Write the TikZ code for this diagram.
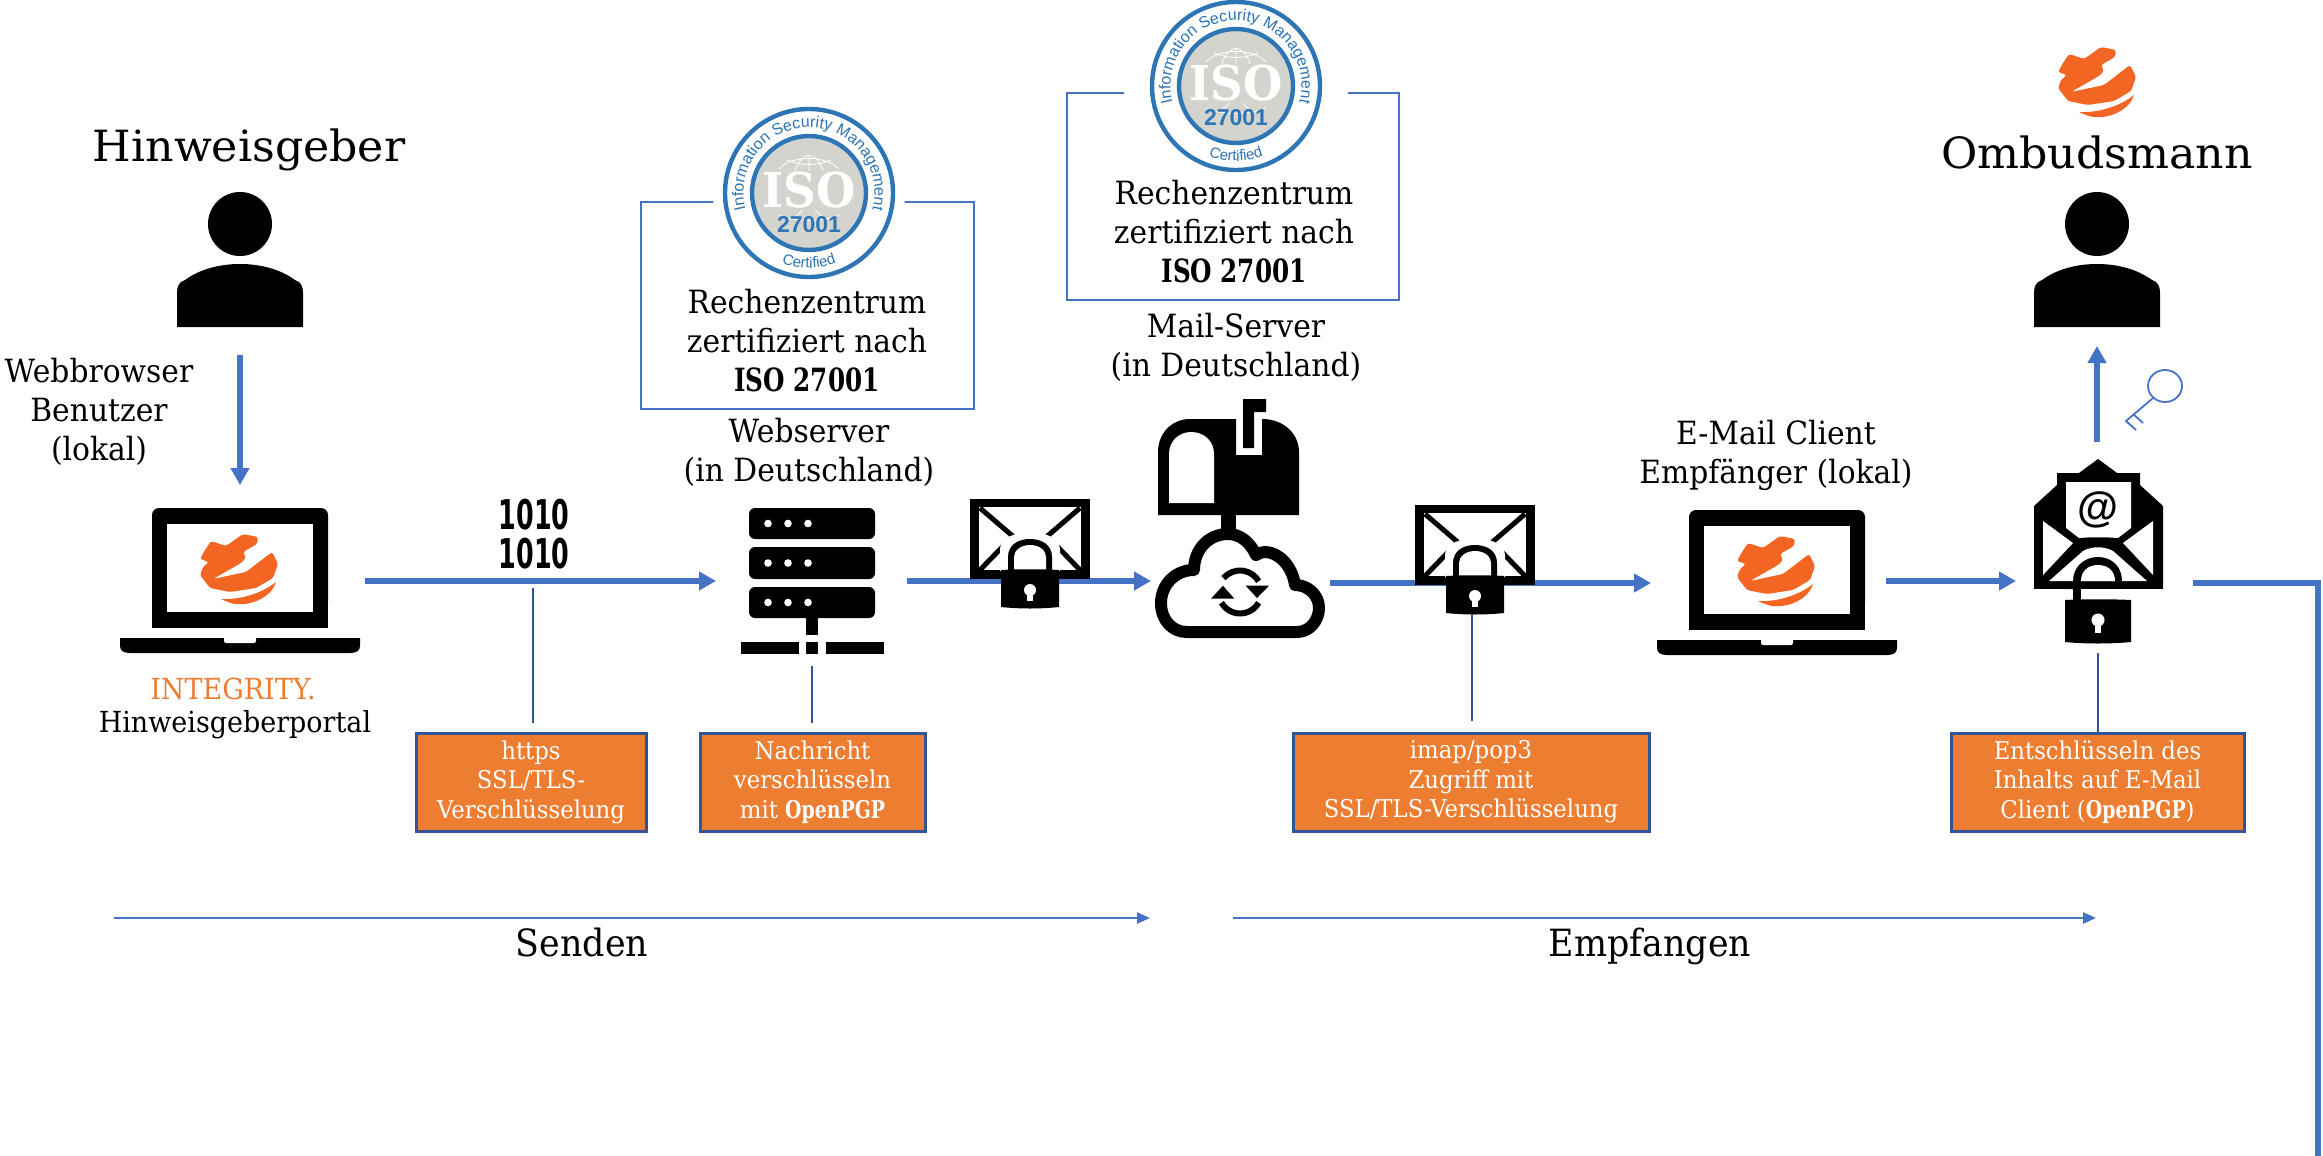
\documentclass[tikz,border=0pt]{standalone}
\usepackage{fontspec}
\setmainfont{DejaVu Serif}[FakeStretch=0.93]
\newfontfamily\headfont{DejaVu Serif}[FakeStretch=1.03]
\newfontfamily\narrowfont{DejaVu Serif}[FakeStretch=0.77]
\newfontfamily\labfont{Liberation Sans}
\newfontfamily\binfont{DejaVu Sans}[FakeStretch=0.62]
\newfontfamily\isofont{DejaVu Serif}[FakeStretch=0.94]
\usetikzlibrary{arrows.meta,decorations.text}
\definecolor{flowblue}{HTML}{4472C4}
\definecolor{edgeblue}{HTML}{2F5597}
\definecolor{boxorange}{HTML}{ED7D31}
\definecolor{logoorange}{HTML}{F26522}
\definecolor{badgeblue}{HTML}{2E75B6}
\definecolor{badgegrey}{HTML}{D4D4CE}
\newcommand{\fsz}[2]{\fontsize{#1}{#2}\selectfont}
\newcommand{\nb}[1]{{\narrowfont\bfseries #1}}
\tikzset{
  flowarrow/.style={draw=flowblue,line width=5.5pt,-{Triangle[length=17pt,width=18pt]}},
  flowline/.style={draw=flowblue,line width=5.5pt},
  phasearrow/.style={draw=flowblue,line width=2.5pt,-{Triangle[length=13pt,width=11pt]}},
  stemline/.style={draw=edgeblue,line width=2.4pt},
  orangebox/.style={draw=edgeblue,line width=3pt,fill=boxorange,text=white,align=center,inner sep=0pt,font=\fsz{24.5}{29.5}},
  certbox/.style={draw=flowblue,line width=2pt,inner sep=0pt},
  bodytext/.style={align=center,text=black,inner sep=0pt,font=\fsz{32}{39}},
  phasetext/.style={align=center,text=black,inner sep=0pt,font=\fsz{37.5}{38}},
  headtext/.style={align=center,text=black,inner sep=0pt,font=\headfont\fsz{43}{46}},
  logomark/.pic={
    \fill[logoorange,rounded corners=2.5pt] (-28,-29) -- (-13,-24) -- (4,-36) -- (19,-33) -- (18,-26) -- (4,-18) -- (7,-12) -- (2,-7) -- (-26,9) -- (7,2) -- (33,-18) -- (39,-6) -- (34,8) -- (17,18) -- (-9,22) -- (-29,18) -- (-39,5) -- (-36,-3) -- (-30,-8) -- (-39,-11) -- (-34,-20) -- cycle;
    \fill[logoorange] (-18,29) .. controls (0,30) and (22,24) .. (37,12) .. controls (33,26) and (14,36) .. (-4,34) .. controls (-9,33) and (-14,31) .. (-18,29) -- cycle;
  },
  personicon/.pic={
    \fill[black] (0,-40) circle[x radius=32,y radius=32];
    \fill[black] (-63,63) -- (-63,29) .. controls (-63,22) and (-61,18) .. (-55,16) .. controls (-40,5) and (-20,0) .. (0,0) .. controls (20,0) and (40,5) .. (55,16) .. controls (61,18) and (63,22) .. (63,29) -- (63,63) -- cycle;
  },
  laptopicon/.pic={
    \fill[black,rounded corners=7pt] (0,30) -- (0,-50) -- (176,-50) -- (176,50) -- (0,50) -- cycle;
    \fill[black] (0,30) rectangle (176,70);
    \fill[white] (15,-34) rectangle (161,54);
    \fill[black] (-32,80) -- (208,80) -- (208,88) .. controls (208,93) and (204,95) .. (198,95) -- (-22,95) .. controls (-28,95) and (-32,93) .. (-32,88) -- cycle;
    \fill[white,rounded corners=2pt] (72,78) -- (72,85) -- (104,85) -- (104,78) -- cycle;
    \pic at (87,12) {logomark};
  },
  envelopeicon/.pic={
    \fill[black] (0,0) rectangle (120,80);
    \fill[white] (9,8) rectangle (111,71);
    \draw[black,line width=5pt] (10,9) -- (60,52) -- (110,9);
    \draw[black,line width=5pt] (8,73) -- (40,40) (112,73) -- (80,40);
    \fill[white] (30,72) -- (30,50) .. controls (30,38) and (48,33) .. (60,33) .. controls (72,33) and (90,38) .. (90,50) -- (90,72) -- cycle;
    \fill[black] (38,72) -- (38,58) .. controls (38,46) and (48,40) .. (60,40) .. controls (72,40) and (82,46) .. (82,58) -- (82,72) -- cycle;
    \fill[white] (44,72) -- (44,58) .. controls (44,52) and (50,46) .. (60,46) .. controls (70,46) and (76,52) .. (76,58) -- (76,72) -- cycle;
    \fill[black] (31,71) .. controls (50,70) and (70,70) .. (89,71) -- (89,108) .. controls (70,110) and (50,110) .. (31,108) -- cycle;
    \fill[white] (60,91) circle[radius=6];
    \fill[white] (57,91) rectangle (63,102);
  }
}
\newcommand{\drawbadge}[2]{%
  \begin{scope}[shift={(#1,#2)},y=1pt]
    \draw[badgeblue,line width=4.4pt,fill=white] (0,0) circle[radius=84];
    \draw[badgeblue,line width=4.4pt,fill=badgegrey] (0,0) circle[radius=57];
    \draw[white,line width=0.8pt] (-30,24) .. controls (-18,38) and (18,38) .. (30,24)
      (-22,33) .. controls (-8,27) and (8,27) .. (22,33)
      (-14,22) .. controls (-12,30) and (-6,37) .. (0,38) .. controls (6,37) and (12,30) .. (14,22)
      (0,22) -- (0,38)
      (-30,-22) .. controls (-18,-29) and (18,-29) .. (30,-22)
      (-14,-24) -- (-6,-17) (14,-24) -- (6,-17);
    \node[inner sep=0pt,text=white,font=\isofont\bfseries\fsz{48}{48}] (iso#1) at (0,3) {ISO};
    \node[inner sep=0pt,text=badgeblue,font=\labfont\bfseries\fsz{23}{23}] (num#1) at (0,-32) {27001};
    \path[decorate,decoration={text along path,text align={align=center},text color=badgeblue,
      text={|\labfont\fsz{16}{17}|Information Security Management}}]
      (202:65.5) arc[start angle=202,end angle=-22,radius=65.5];
    \path[decorate,decoration={text along path,text align={align=center},text color=badgeblue,
      text={|\labfont\fsz{15}{16}|Certified}}]
      (225:75) arc[start angle=225,end angle=315,radius=75];
  \end{scope}}
\begin{document}
\begin{tikzpicture}[x=1pt,y=-1pt]
\useasboundingbox (0,0) rectangle (2323,1156);

% free ends of the connectors
\coordinate (dnS) at (240,355);   \coordinate (dnE) at (240,485);
\coordinate (a1S) at (365,581);   \coordinate (a1E) at (716,581);
\coordinate (a2S) at (907,581);   \coordinate (a2E) at (1151,581);
\coordinate (a3S) at (1330,583);  \coordinate (a3E) at (1651,583);
\coordinate (a4S) at (1886,581);  \coordinate (a4E) at (2016,581);
\coordinate (upS) at (2097,442);  \coordinate (upE) at (2097,346);
\coordinate (lS) at (2193,583);   \coordinate (lC) at (2318,583); \coordinate (lE) at (2318,1156);
\coordinate (s1) at (533,588);    \coordinate (s1b) at (533,723);
\coordinate (s2) at (812,666);    \coordinate (s2b) at (812,723);
\coordinate (s3) at (1472,614);   \coordinate (s3b) at (1472,721);
\coordinate (s4) at (2098,653);   \coordinate (s4b) at (2098,732);
\coordinate (p1S) at (114,918);   \coordinate (p1E) at (1150,918);
\coordinate (p2S) at (1233,918);  \coordinate (p2E) at (2096,918);

% connectors
\draw[flowarrow] (dnS) -- (dnE);
\draw[flowarrow] (a1S) -- (a1E);
\draw[flowarrow] (a2S) -- (a2E);
\draw[flowarrow] (a3S) -- (a3E);
\draw[flowarrow] (a4S) -- (a4E);
\draw[flowarrow] (upS) -- (upE);
\draw[flowline] (lS) -- (lC) -- (lE);
\draw[phasearrow] (p1S) -- (p1E);
\draw[phasearrow] (p2S) -- (p2E);

% certification boxes
\node[certbox,minimum width=333pt,minimum height=207pt] (cert1) at (807.5,305.5) {};
\node[certbox,minimum width=332pt,minimum height=207pt] (cert2) at (1233,196.5) {};
\fill[white] (809,193) circle[radius=96];
\fill[white] (1236,86) circle[radius=112];
\drawbadge{809}{193}
\drawbadge{1236}{86}

\node[bodytext] (certtext1) at (807,341) {Rechenzentrum\\zertifiziert nach\\\nb{ISO 27001}};
\node[bodytext] (certtext2) at (1234,232) {Rechenzentrum\\zertifiziert nach\\\nb{ISO 27001}};
\node[bodytext] (mailsrv) at (1236,347) {Mail-Server\\(in Deutschland)};
\node[bodytext] (websrv) at (809,452) {Webserver\\(in Deutschland)};
\node[bodytext] (client) at (1776,455) {E-Mail Client\\Empfänger (lokal)};
\node[bodytext] (browser) at (99,412) {Webbrowser\\Benutzer\\(lokal)};
\node[bodytext,font=\fsz{29}{36},text=boxorange] (integrity) at (233,689) {INTEGRITY.};
\node[bodytext,font=\fsz{29}{36}] (portal) at (235,725) {Hinweisgeberportal};
\node[headtext] (hg) at (249,150) {Hinweisgeber};
\node[headtext] (om) at (2097,152) {Ombudsmann};
\node[phasetext] (senden) at (582,943) {Senden};
\node[phasetext] (empf) at (1650,946) {Empfangen};

% persons
\pic at (240,264) {personicon};
\pic at (2097,264) {personicon};

% laptops
\pic at (152,558) {laptopicon};
\pic at (1689,560) {laptopicon};

% logo above Ombudsmann
\pic at (2097,83) {logomark};

% binary
\node[inner sep=0pt,align=center,font=\binfont\bfseries\fsz{41}{39.5}] (binary) at (534,534) {1010\\1010};

% server
\fill[black,rounded corners=6pt] (749,508) rectangle (875,539);
\fill[black,rounded corners=6pt] (749,547) rectangle (875,579);
\fill[black,rounded corners=6pt] (749,587) rectangle (875,618);
\foreach \yy in {523.5,563,602.5}{\foreach \xx in {768,788,808}{\fill[white] (\xx,\yy) circle[radius=3.8];}}
\fill[black] (806,618) rectangle (818,635);
\fill[black] (741,642) rectangle (799,654);
\fill[black] (806,642) rectangle (818,654);
\fill[black] (826,642) rectangle (884,654);

% envelopes
\pic at (970,499) {envelopeicon};
\pic at (1415,505) {envelopeicon};

% mailbox
\fill[black] (1158,515) -- (1158,452) .. controls (1158,433) and (1172,419) .. (1190,419) -- (1236,419) -- (1236,455) -- (1262,455) -- (1262,419) .. controls (1285,419) and (1299,435) .. (1299,452) -- (1299,515) -- cycle;
\fill[white] (1169,503) -- (1169,454) .. controls (1169,441) and (1179,432) .. (1191,432) .. controls (1204,432) and (1214,441) .. (1214,454) -- (1214,503) -- cycle;
\fill[black] (1243,448) -- (1243,399) -- (1266,399) -- (1266,412) -- (1254,412) -- (1254,448) -- cycle;
\fill[black] (1221,515) rectangle (1236,534);
% cloud
\draw[black,line width=12pt,fill=white,line join=round] (1187,632) -- (1297,632) .. controls (1310,632) and (1319,620) .. (1319,608) .. controls (1319,595) and (1308,585) .. (1295,585) .. controls (1292,565) and (1278,552) .. (1265,552) .. controls (1262,552) and (1259,553) .. (1256,555) .. controls (1250,542) and (1240,534) .. (1228,534) .. controls (1208,534) and (1194,550) .. (1194,570) .. controls (1175,570) and (1161,585) .. (1161,603) .. controls (1161,620) and (1172,632) .. (1187,632) -- cycle;
\begin{scope}[shift={(1240,592)},y=1pt]
  \draw[black,line width=6pt] (140:21.5) arc[start angle=140,end angle=30,radius=21.5];
  \draw[black,line width=6pt] (-30:21.5) arc[start angle=-30,end angle=-150,radius=21.5];
  \fill[black] (5.7,6.3) -- (29,6.3) -- (17,-6) -- cycle;
  \fill[black] (-29,-6.7) -- (-5.7,-6.7) -- (-17,6.3) -- cycle;
\end{scope}

% open envelope with lock
\fill[black] (2098,459) -- (2117,473) -- (2140,473) -- (2140,485) -- (2163,506) -- (2163,589) -- (2034,589) -- (2034,506) -- (2057,485) -- (2057,473) -- (2079,473) -- cycle;
\fill[white] (2066,482) -- (2131,482) -- (2131,528) -- (2118,538) .. controls (2105,537) and (2091,537) .. (2079,538) -- (2066,528) -- cycle;
\fill[white] (2043,521) -- (2073,543) -- (2043,575) -- cycle;
\fill[white] (2153,521) -- (2123,543) -- (2153,575) -- cycle;
\fill[white] (2049,581) -- (2083,551) .. controls (2092,546) and (2104,546) .. (2113,551) -- (2147,581) -- cycle;
\fill[black] (2073,581) .. controls (2073,567) and (2084,557) .. (2098,557) .. controls (2112,557) and (2122,567) .. (2122,581) -- cycle;
\fill[white] (2081,581) .. controls (2081,571) and (2088,565) .. (2098,565) .. controls (2108,565) and (2115,571) .. (2115,581) -- cycle;
\fill[white] (2034,589) rectangle (2065,600);
\fill[white] (2081,589) rectangle (2163,600);
\fill[black] (2073,581) rectangle (2081,601);
\fill[black] (2065,600) .. controls (2085,599) and (2110,599) .. (2131,600) -- (2131,642) .. controls (2110,644) and (2085,644) .. (2065,642) -- cycle;
\fill[white] (2098,620) circle[radius=6.5];
\fill[white] (2095,620) rectangle (2101,633);
\node[inner sep=0pt,font=\labfont\bfseries\fsz{42}{42}] (atsign) at (2098,510) {@};

% key
\draw[flowblue,line width=1.8pt] (2165,386) circle[x radius=17,y radius=16];
\draw[flowblue,line width=1.8pt] (2153,398) -- (2126,421) -- (2136,430) (2133,414) -- (2143,423);

% stems
\draw[stemline] (s1) -- (s1b);
\draw[stemline] (s2) -- (s2b);
\draw[stemline] (s3) -- (s3b);
\draw[stemline] (s4) -- (s4b);

% orange boxes
\node[orangebox,minimum width=230pt,minimum height=98pt] (bhttps) at (531,782) {https\\SSL/TLS-\\Verschlüsselung};
\node[orangebox,minimum width=225pt,minimum height=98pt] (bpgp) at (812.5,782) {Nachricht\\verschlüsseln\\mit \nb{OpenPGP}};
\node[orangebox,minimum width=356pt,minimum height=98pt] (bimap) at (1471,782) {imap/pop3\\Zugriff mit\\SSL/TLS-Verschlüsselung};
\node[orangebox,minimum width=293pt,minimum height=98pt] (bdec) at (2097.5,782) {Entschlüsseln des\\Inhalts auf E-Mail\\Client (\nb{OpenPGP})};
\end{tikzpicture}
\end{document}
